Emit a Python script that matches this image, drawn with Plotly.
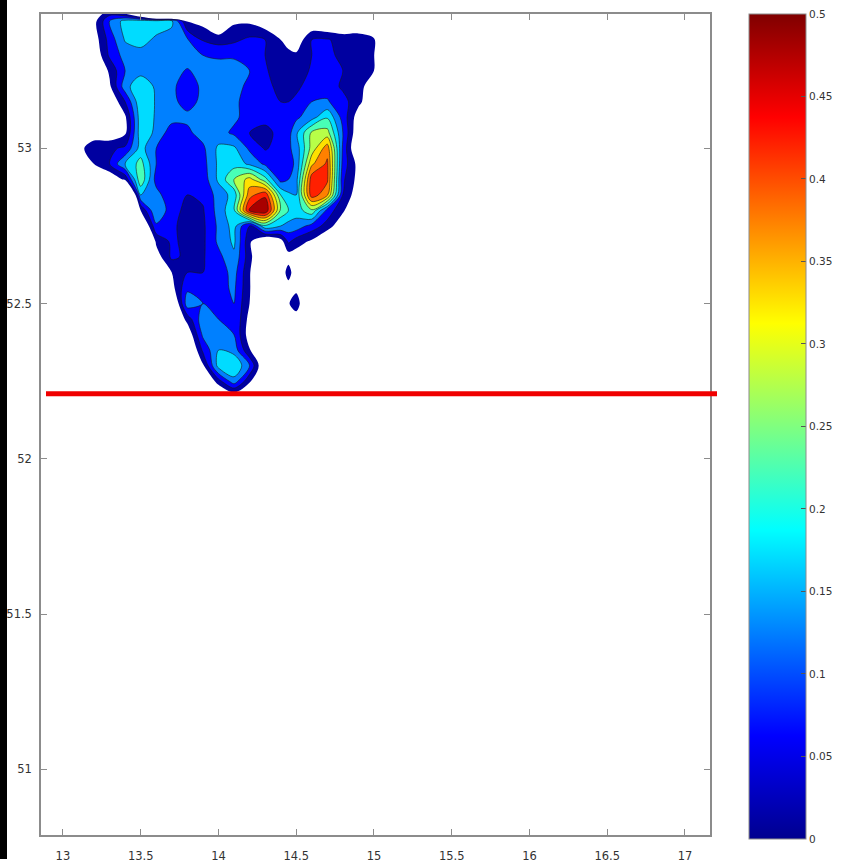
import plotly.graph_objects as go

W, H = 847, 863

lon = [13.1, 13.2, 13.3, 13.4, 13.5, 13.6, 13.7, 13.8, 13.9, 14.0, 14.1, 14.2, 14.3, 14.4, 14.45, 14.5, 14.6, 14.7, 14.8, 14.9, 15.0, 15.1]
lat = [53.45, 53.41, 53.35, 53.30, 53.25, 53.20, 53.15, 53.10, 53.05, 53.00, 52.95, 52.90, 52.85,
       52.80, 52.75, 52.70, 52.65, 52.60, 52.55, 52.50, 52.45, 52.40, 52.35, 52.30, 52.25, 52.20]

z_5345 = [-.1,-.03,-.01,-.115,-.34,-.8,-.7,-.1,-.1,-.1,-.1,-.1,-.1,-.1,-.1,-.1,-.1,-.1,-.1,-.1,-.1,-.1]
z_5341 = [-.1,-.02,.1,.17,.18,.18,.16,-.005,-.02,-.08,-.01,-.01,-.04,-.1,-.1,-.1,-.06,-.08,-.07,-.05,-.06,-.2]
z_5335 = [-.1,-.03,.07,.155,.17,.14,.13,.105,.045,.03,.04,.06,.05,.0,-.03,-.04,.05,.055,.03,.025,.01,-.3]
z_5330 = [-.1,-.05,.06,.12,.13,.13,.13,.13,.1,.09,.09,.06,.05,.03,.02,.01,.05,.06,.04,.03,.005,-.3]
z_5325 = [-.1,-.08,.01,.1,.13,.13,.12,.095,.12,.13,.13,.1,.055,.03,.03,.03,.055,.07,.05,.03,.0,-.2]
z_5320 = [-.1,-.1,-.01,.13,.19,.14,.11,.075,.11,.13,.13,.08,.06,.04,.04,.04,.07,.08,.04,.03,-.05,-.2]
z_5315 = [-.1,-.1,-.06,.05,.19,.145,.11,.085,.11,.13,.11,.08,.06,.05,.05,.06,.1,.105,.07,.015,-.05,-.2]
z_5310 = [-.1,-.1,-.15,-.01,.18,.145,.12,.11,.12,.12,.11,.08,.06,.06,.07,.09,.13,.195,.08,-.03,-.1,-.2]
z_5305 = [-.1,-.05,-.04,-.01,.18,.14,.07,.09,.12,.12,.09,.05,.04,.06,.08,.14,.26,.27,.1,-.05,-.1,-.2]
z_5300 = [-.03,.05,.04,.06,.17,.1,.08,.07,.09,.16,.16,.09,.045,.07,.09,.12,.27,.38,.09,-.08,-.1,-.2]
z_5295 = [-.1,.0,.05,.15,.22,.1,.07,.06,.08,.16,.18,.14,.09,.07,.08,.11,.34,.41,.08,-.02,-.1,-.2]
z_5290 = [-.1,-.1,-.05,.01,.24,.08,.07,.06,.07,.16,.25,.32,.22,.08,.1,.13,.43,.41,.06,-.02,-.1,-.2]
z_5285 = [-.1,-.1,-.1,-.3,.15,.12,.06,.05,.06,.12,.17,.38,.44,.2,.16,.15,.43,.36,.05,-.04,-.1,-.2]
z_5280 = [-.1,-.1,-.1,-.3,.0,.15,.07,.035,.045,.12,.19,.46,.499,.24,.2,.17,.24,.08,.01,-.08,-.1,-.2]
z_5275 = [-.1,-.1,-.1,-.3,-.1,.09,.06,.03,.04,.11,.17,.03,.19,.15,.13,.13,.08,.03,-.05,-.1,-.1,-.2]
z_5270 = [-.1,-.1,-.1,-.3,-.2,.01,.06,.035,.04,.11,.16,.01,-.08,-.03,.06,.025,-.01,-.08,-.1,-.1,-.1,-.2]
z_5265 = [-.1,-.1,-.1,-.1,-.1,-.03,.06,.04,.045,.085,.14,.02,-.1,-.1,-.03,-.03,-.1,-.1,-.1,-.1,-.1,-.1]
z_5260 = [-.1,-.1,-.1,-.1,-.1,-.1,.0,.05,.05,.07,.12,.005,-.1,-.05,.03,-.05,-.1,-.1,-.1,-.1,-.1,-.1]
z_5255 = [-.1,-.1,-.1,-.1,-.1,-.1,-.02,.09,.06,.08,.11,.005,-.1,-.1,-.03,-.015,-.1,-.1,-.1,-.1,-.1,-.1]
z_5250 = [-.1,-.1,-.1,-.1,-.1,-.1,-.1,.13,.1,.08,.1,.0,-.1,-.1,-.005,.03,-.1,-.1,-.1,-.1,-.1,-.1]
z_5245 = [-.1,-.1,-.1,-.1,-.1,-.1,-.1,.02,.13,.1,.1,-.02,-.1,-.1,-.1,-.03,-.1,-.1,-.1,-.1,-.1,-.1]
z_5240 = [-.1,-.1,-.1,-.1,-.1,-.1,-.1,-.05,.11,.14,.1,-.03,-.1,-.1,-.1,-.1,-.1,-.1,-.1,-.1,-.1,-.1]
z_5235 = [-.1,-.1,-.1,-.1,-.1,-.1,-.1,-.1,.06,.15,.13,.005,-.1,-.1,-.1,-.1,-.1,-.1,-.1,-.1,-.1,-.1]
z_5230 = [-.1,-.1,-.1,-.1,-.1,-.1,-.1,-.1,-.01,.17,.2,.1,-.07,-.1,-.1,-.1,-.1,-.1,-.1,-.1,-.1,-.1]
z_5225 = [-.1,-.1,-.1,-.1,-.1,-.1,-.1,-.1,-.1,.03,.13,.01,-.1,-.1,-.1,-.1,-.1,-.1,-.1,-.1,-.1,-.1]
z_5220 = [-.1,-.1,-.1,-.1,-.1,-.1,-.1,-.1,-.1,-.1,-.05,-.1,-.1,-.1,-.1,-.1,-.1,-.1,-.1,-.1,-.1,-.1]

z_rows = [z_5345, z_5341, z_5335, z_5330, z_5325, z_5320, z_5315, z_5310, z_5305, z_5300, z_5295, z_5290,
          z_5285, z_5280, z_5275, z_5270, z_5265, z_5260, z_5255, z_5250, z_5245, z_5240, z_5235, z_5230,
          z_5225, z_5220]

levels_start, levels_end, levels_step = 0.0, 0.5, 0.05
band_colors = ["#ffffff", "#0000a0", "#0000ff", "#0080ff", "#00dcff", "#48ffb7",
               "#b7ff48", "#ffe000", "#ff8000", "#ff2000", "#a80000", "#800000"]
jet_colors = ["#00008f", "#0000ff", "#00ffff", "#ffff00", "#ff0000", "#800000"]
jet_stops = [0, 0.125, 0.375, 0.625, 0.875, 1]
bar_ticks = [0, 0.05, 0.1, 0.15, 0.2, 0.25, 0.3, 0.35, 0.4, 0.45, 0.5]
bar_labels = ["0", "0.05", "0.1", "0.15", "0.2", "0.25", "0.3", "0.35", "0.4", "0.45", "0.5"]
x_ticks = [13, 13.5, 14, 14.5, 15, 15.5, 16, 16.5, 17]
y_ticks = [51, 51.5, 52, 52.5, 53]

AXIS = "#8c8c8c"
TXT = dict(family="DejaVu Sans", size=11.5, color="#333333")
n = len(band_colors) - 1
fill_scale = [[i / n, c] for i, c in enumerate(band_colors)]

fig = go.Figure()
fig.add_trace(go.Contour(
    x=lon, y=lat[::-1], z=z_rows[::-1], showscale=False, hoverinfo="skip",
    autocontour=False, colorscale=fill_scale,
    contours=dict(start=levels_start, end=levels_end, size=levels_step, coloring="fill", showlines=False),
    line=dict(width=0, smoothing=0.9),
))
fig.add_trace(go.Contour(
    x=lon, y=lat[::-1], z=z_rows[::-1], showscale=False, hoverinfo="skip",
    autocontour=False,
    contours=dict(start=levels_step, end=levels_end, size=levels_step, coloring="none"),
    line=dict(width=0.6, color="#1a1a1a", smoothing=0.9),
))
fig.add_trace(go.Scatter(
    x=[None, None], y=[None, None], mode="markers", hoverinfo="skip", showlegend=False,
    marker=dict(color=[bar_ticks[0], bar_ticks[-1]], cmin=bar_ticks[0], cmax=bar_ticks[-1],
                colorscale=[[s, c] for s, c in zip(jet_stops, jet_colors)], showscale=True,
                colorbar=dict(x=749 / W, xanchor="left", xpad=0, ypad=0, y=(H - 14) / H, yanchor="top",
                              thickness=57, thicknessmode="pixels", len=825, lenmode="pixels",
                              tickvals=bar_ticks, ticktext=bar_labels, ticks="inside", ticklen=5,
                              tickcolor="#555555", tickwidth=1, outlinecolor=AXIS, outlinewidth=1,
                              tickfont=dict(family="DejaVu Sans", size=10.5, color="#333333"))),
))

axis_common = dict(showgrid=False, zeroline=False, showline=True, linecolor=AXIS, linewidth=1.5,
                   mirror="ticks", ticks="inside", ticklen=6, tickcolor=AXIS, tickwidth=1, tickfont=TXT)
fig.update_xaxes(domain=[41 / W, 710 / W], range=[12.859, 17.161], tickvals=x_ticks,
                 ticktext=[str(v) for v in x_ticks], ticklabelstandoff=9, **axis_common)
fig.update_yaxes(domain=[(H - 839) / H, (H - 14) / H], range=[50.788, 53.433], tickvals=y_ticks,
                 ticktext=[str(v) for v in y_ticks], ticklabelstandoff=5, **axis_common)

fig.update_layout(
    width=W, height=H, margin=dict(l=0, r=0, t=0, b=0), paper_bgcolor="white", plot_bgcolor="white",
    showlegend=False,
    shapes=[
        dict(type="rect", xref="paper", yref="paper", x0=0, x1=7 / W, y0=0, y1=1, fillcolor="black", line_width=0, layer="above"),
        dict(type="line", xref="paper", yref="paper", x0=46 / W, x1=717 / W, y0=(H - 395.5) / H, y1=(H - 395.5) / H,
             line=dict(color="#f00000", width=5), layer="above"),
    ],
)
fig.write_html("out.html", post_script="document.body.style.margin='0';", config=dict(displayModeBar=False))
